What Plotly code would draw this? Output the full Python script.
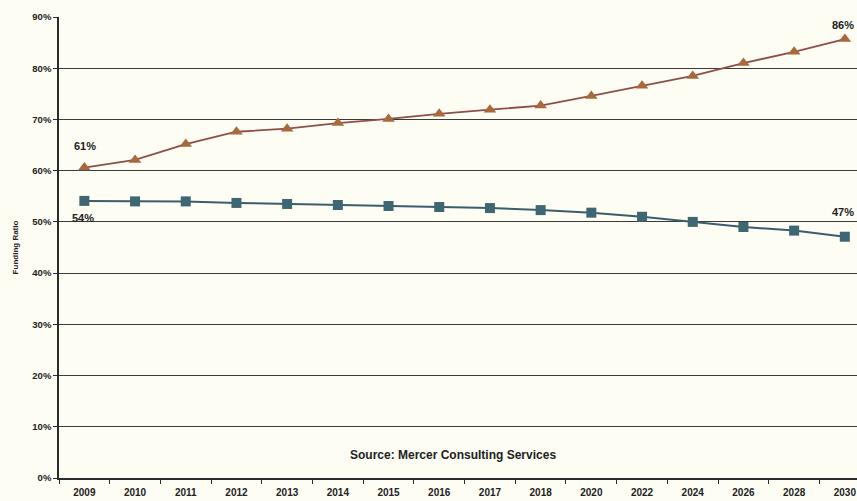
import plotly.graph_objects as go

years = ["2009", "2010", "2011", "2012", "2013", "2014", "2015", "2016",
         "2017", "2018", "2020", "2022", "2024", "2026", "2028", "2030"]
rising = [60.6, 62.1, 65.2, 67.6, 68.2, 69.3, 70.1, 71.1,
          71.9, 72.7, 74.6, 76.6, 78.5, 81.0, 83.2, 85.7]
falling = [54.1, 54.0, 54.0, 53.7, 53.5, 53.3, 53.1, 52.9,
           52.7, 52.3, 51.8, 51.0, 50.0, 49.0, 48.3, 47.1]
y_ticks = [0, 10, 20, 30, 40, 50, 60, 70, 80, 90]
source_text = "Source: Mercer Consulting Services"

FONT = "Arial, Liberation Sans, sans-serif"
DARK = "#2b2b2b"

fig = go.Figure()
fig.add_trace(go.Scatter(
    x=years, y=rising, mode="lines+markers",
    line=dict(color="#8e4f4a", width=1.8),
    marker=dict(symbol="triangle-up", size=11, color="#a8693c",
                line=dict(width=0)),
    showlegend=False))
fig.add_trace(go.Scatter(
    x=years, y=falling, mode="lines+markers",
    line=dict(color="#3a5e6b", width=2),
    marker=dict(symbol="square", size=10, color="#3f6673",
                line=dict(width=0)),
    showlegend=False))

lbl_font = dict(family=FONT, size=11, color="#222222", weight="bold")
first, last = 0, len(years) - 1
fig.add_annotation(x=first, y=rising[first], text=f"{round(rising[first])}%",
                   showarrow=False, yshift=22, xshift=1, font=lbl_font)
fig.add_annotation(x=first, y=falling[first], text=f"{round(falling[first])}%",
                   showarrow=False, yshift=-17, xshift=-1, font=lbl_font)
fig.add_annotation(x=last, y=rising[last], text=f"{round(rising[last])}%",
                   showarrow=False, yshift=14, xshift=-2, font=lbl_font)
fig.add_annotation(x=last, y=falling[last], text=f"{round(falling[last])}%",
                   showarrow=False, yshift=25, xshift=-2, font=lbl_font)

fig.add_annotation(x=0.494, y=0.03, xref="paper", yref="paper",
                   text=source_text, showarrow=False,
                   font=dict(family=FONT, size=12, color="#222222", weight="bold"))

fig.update_layout(
    width=857, height=501,
    margin=dict(l=59, r=0, t=17, b=23),
    paper_bgcolor="#fdfdf4", plot_bgcolor="#fdfdf4",
    font=dict(family=FONT, color="#222222"),
    xaxis=dict(
        type="category", range=[-0.5, 15.24],
        tickson="boundaries", ticks="outside", ticklen=4, tickcolor=DARK,
        ticklabelstandoff=4,
        showgrid=False, showline=True, linecolor=DARK, linewidth=1.5,
        tickfont=dict(family=FONT, size=10, weight="bold", color="#222222"),
        zeroline=False),
    yaxis=dict(
        range=[0, 90], tickvals=y_ticks,
        ticktext=[f"{v}%" for v in y_ticks],
        ticks="outside", ticklen=4, tickcolor=DARK,
        showgrid=True, gridcolor="#3a3a3a", gridwidth=1,
        showline=True, linecolor=DARK, linewidth=1.5,
        zeroline=False,
        tickfont=dict(family=FONT, size=9.5, weight="bold", color="#222222"),
        title=dict(text="Funding Ratio", standoff=13,
                   font=dict(family=FONT, size=8, weight="bold", color="#222222"))),
)

fig.write_html(
    "out.html",
    config={"displayModeBar": False},
    post_script="document.body.style.margin='0';document.body.style.overflow='hidden';",
)
